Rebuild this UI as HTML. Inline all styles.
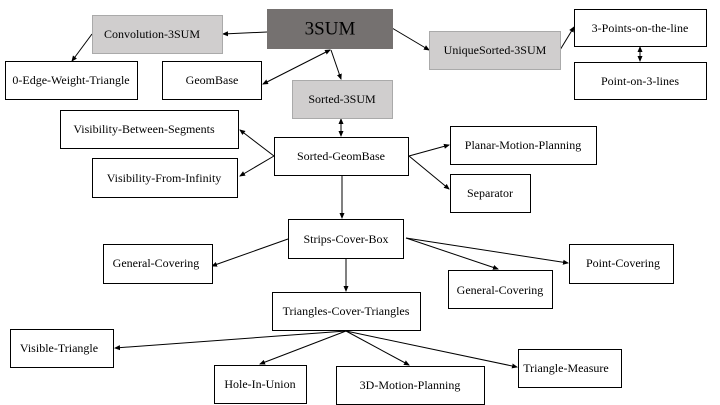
<!DOCTYPE html>
<html><head><meta charset="utf-8"><style>
html,body{margin:0;padding:0;background:#fff;}
svg{display:block;font-family:"Liberation Serif",serif;}
</style></head><body>
<svg width="720" height="405" viewBox="0 0 720 405" xmlns="http://www.w3.org/2000/svg">
<defs>
<marker id="a" markerWidth="6" markerHeight="6" refX="5" refY="3" orient="auto" markerUnits="userSpaceOnUse"><path d="M0,0.5 L6,3 L0,5.5 z" fill="#000"/></marker>
<marker id="s" markerWidth="6" markerHeight="6" refX="1" refY="3" orient="auto" markerUnits="userSpaceOnUse"><path d="M6,0.5 L0,3 L6,5.5 z" fill="#000"/></marker>
</defs>
<g stroke="#000" stroke-width="1" fill="none">
<line x1="267" y1="32" x2="223" y2="34" marker-end="url(#a)"/>
<line x1="92" y1="34" x2="72" y2="61" marker-end="url(#a)"/>
<line x1="330" y1="50" x2="263" y2="84" marker-start="url(#s)" marker-end="url(#a)"/>
<line x1="331" y1="50" x2="341" y2="79" marker-end="url(#a)"/>
<line x1="392" y1="28" x2="429" y2="50" marker-end="url(#a)"/>
<line x1="560" y1="50" x2="574" y2="27" marker-end="url(#a)"/>
<line x1="640" y1="47" x2="640" y2="61" marker-start="url(#s)" marker-end="url(#a)"/>
<line x1="341" y1="119" x2="341" y2="136" marker-start="url(#s)" marker-end="url(#a)"/>
<line x1="274" y1="156" x2="240" y2="130" marker-end="url(#a)"/>
<line x1="274" y1="156" x2="240" y2="176" marker-end="url(#a)"/>
<line x1="409" y1="156" x2="449" y2="145" marker-end="url(#a)"/>
<line x1="409" y1="156" x2="449" y2="189" marker-end="url(#a)"/>
<line x1="342" y1="175" x2="342" y2="218" marker-end="url(#a)"/>
<line x1="288" y1="239" x2="212" y2="266" marker-end="url(#a)"/>
<line x1="406" y1="238" x2="498" y2="269" marker-end="url(#a)"/>
<line x1="406" y1="238" x2="568" y2="263" marker-end="url(#a)"/>
<line x1="346" y1="258" x2="346" y2="291" marker-end="url(#a)"/>
<line x1="346" y1="331" x2="115" y2="348" marker-end="url(#a)"/>
<line x1="346" y1="331" x2="260" y2="364" marker-end="url(#a)"/>
<line x1="346" y1="331" x2="409" y2="365" marker-end="url(#a)"/>
<line x1="346" y1="331" x2="517" y2="367" marker-end="url(#a)"/>
</g>
<g stroke-width="1">
<rect x="267.5" y="9.5" width="125" height="39" fill="#757170" stroke="#757170"/>
<rect x="92.5" y="15.5" width="130" height="38" fill="#d0cece" stroke="#aaa"/>
<rect x="292.5" y="80.5" width="100" height="38" fill="#d0cece" stroke="#aaa"/>
<rect x="429.5" y="31.5" width="131" height="38" fill="#d0cece" stroke="#aaa"/>
<g fill="#fff" stroke="#000">
<rect x="5.5" y="61.5" width="132" height="38"/>
<rect x="162.5" y="61.5" width="99" height="38"/>
<rect x="60.5" y="110.5" width="178" height="38"/>
<rect x="92.5" y="158.5" width="145" height="39"/>
<rect x="274.5" y="137.5" width="134" height="38"/>
<rect x="574.5" y="9.5" width="132" height="37"/>
<rect x="574.5" y="62.5" width="132" height="37"/>
<rect x="450.5" y="126.5" width="146" height="38"/>
<rect x="450.5" y="174.5" width="80" height="38"/>
<rect x="288.5" y="219.5" width="115" height="39"/>
<rect x="103.5" y="244.5" width="109" height="39"/>
<rect x="448.5" y="270.5" width="104" height="38"/>
<rect x="569.5" y="244.5" width="104" height="39"/>
<rect x="272.5" y="292.5" width="148" height="38"/>
<rect x="10.5" y="329.5" width="103" height="38"/>
<rect x="214.5" y="365.5" width="92" height="38"/>
<rect x="336.5" y="366.5" width="148" height="38"/>
<rect x="518.5" y="349.5" width="103" height="38"/>
</g>
</g>
<g font-size="12" fill="#000" text-anchor="middle" dominant-baseline="central">
<text x="330" y="29" font-size="19">3SUM</text>
<text x="152" y="34">Convolution-3SUM</text>
<text x="342" y="99">Sorted-3SUM</text>
<text x="495" y="50">UniqueSorted-3SUM</text>
<text x="71" y="80">0-Edge-Weight-Triangle</text>
<text x="212" y="80">GeomBase</text>
<text x="144" y="129">Visibility-Between-Segments</text>
<text x="164" y="178">Visibility-From-Infinity</text>
<text x="341" y="156">Sorted-GeomBase</text>
<text x="640" y="28">3-Points-on-the-line</text>
<text x="640" y="81">Point-on-3-lines</text>
<text x="523" y="145">Planar-Motion-Planning</text>
<text x="490" y="193">Separator</text>
<text x="346" y="239">Strips-Cover-Box</text>
<text x="156" y="263">General-Covering</text>
<text x="500" y="290">General-Covering</text>
<text x="623" y="263">Point-Covering</text>
<text x="346" y="311">Triangles-Cover-Triangles</text>
<text x="59" y="348">Visible-Triangle</text>
<text x="260" y="384">Hole-In-Union</text>
<text x="410" y="385">3D-Motion-Planning</text>
<text x="566" y="368">Triangle-Measure</text>
</g>
</svg>
</body></html>
